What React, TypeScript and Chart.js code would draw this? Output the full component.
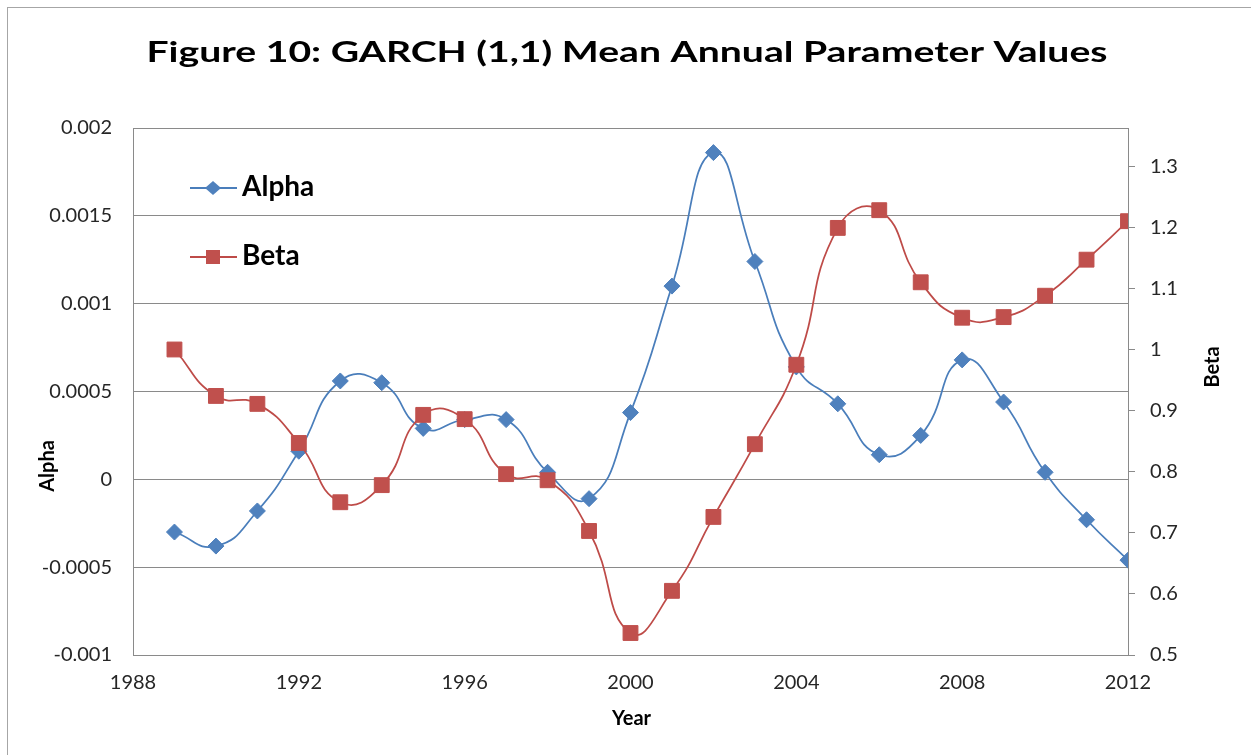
import React, { useEffect, useRef } from 'react';
import { Chart, registerables } from 'chart.js';

Chart.register(...registerables);

const TITLE = 'Figure 10: GARCH (1,1) Mean Annual Parameter Values';
const years = [1989, 1990, 1991, 1992, 1993, 1994, 1995, 1996, 1997, 1998, 1999, 2000, 2001, 2002, 2003, 2004, 2005, 2006, 2007, 2008, 2009, 2010, 2011, 2012];
const alphaValues = [-0.0003, -0.00038, -0.00018, 0.00016, 0.00056, 0.00055, 0.00029, 0.00034, 0.00034, 0.00004, -0.00011, 0.00038, 0.0011, 0.00186, 0.00124, 0.00064, 0.00043, 0.00014, 0.00025, 0.00068, 0.00044, 0.00004, -0.00023, -0.00046];
const betaValues = [1.0, 0.924, 0.911, 0.847, 0.75, 0.778, 0.893, 0.886, 0.796, 0.786, 0.703, 0.536, 0.605, 0.726, 0.845, 0.975, 1.199, 1.228, 1.11, 1.052, 1.053, 1.088, 1.147, 1.21];
const yearTicks = [1988, 1992, 1996, 2000, 2004, 2008, 2012];
const alphaTicks = [-0.001, -0.0005, 0, 0.0005, 0.001, 0.0015, 0.002];
const betaTicks = [0.5, 0.6, 0.7, 0.8, 0.9, 1.0, 1.1, 1.2, 1.3];

const GRID = '#8a8a8a';
const TICK = '#262626';
const ALPHA_LINE = '#4A7EBB';
const ALPHA_MARK = '#4F81BD';
const BETA_LINE = '#BE4B48';
const BETA_MARK = '#C0504D';
const FONT = 'Lato';

const fmt = (v: number) => String(parseFloat(Number(v).toPrecision(6)));

const decorPlugin = {
  id: 'decor',
  afterDraw(chart: any) {
    const ctx = chart.ctx as CanvasRenderingContext2D;
    const area = chart.chartArea;

    // Title
    ctx.save();
    ctx.font = `bold 28px ${FONT}`;
    ctx.fillStyle = '#000';
    ctx.textAlign = 'center';
    ctx.textBaseline = 'alphabetic';
    const w = ctx.measureText(TITLE).width;
    ctx.translate(627, 62);
    ctx.scale(961 / w, 1);
    ctx.fillText(TITLE, 0, 0);
    ctx.restore();

    // Axis titles
    ctx.save();
    ctx.font = `bold 20px ${FONT}`;
    ctx.fillStyle = '#000';
    ctx.textAlign = 'center';
    ctx.textBaseline = 'middle';
    ctx.fillText('Year', (area.left + area.right) / 2 + 1, 719);
    ctx.save();
    ctx.translate(48, 466);
    ctx.rotate(-Math.PI / 2);
    ctx.fillText('Alpha', 0, 0);
    ctx.restore();
    ctx.save();
    ctx.translate(1213, 367);
    ctx.rotate(-Math.PI / 2);
    ctx.fillText('Beta', 0, 0);
    ctx.restore();
    ctx.restore();

    // Legend
    const rows = [
      { label: 'Alpha', line: ALPHA_LINE, mark: ALPHA_MARK, y: 188, shape: 'diamond' },
      { label: 'Beta', line: BETA_LINE, mark: BETA_MARK, y: 257, shape: 'square' },
    ];
    rows.forEach((r) => {
      ctx.save();
      ctx.strokeStyle = r.line;
      ctx.lineWidth = 2;
      ctx.beginPath();
      ctx.moveTo(190, r.y);
      ctx.lineTo(237, r.y);
      ctx.stroke();
      ctx.fillStyle = r.mark;
      ctx.beginPath();
      if (r.shape === 'diamond') {
        ctx.moveTo(213, r.y - 7);
        ctx.lineTo(221, r.y);
        ctx.lineTo(213, r.y + 7);
        ctx.lineTo(205, r.y);
        ctx.closePath();
      } else {
        ctx.rect(206, r.y - 7, 14, 14);
      }
      ctx.fill();
      ctx.font = `bold 28px ${FONT}`;
      ctx.fillStyle = '#000';
      ctx.textAlign = 'left';
      ctx.textBaseline = 'middle';
      ctx.fillText(r.label, 242, r.y - 1);
      ctx.restore();
    });
  },
};

export default function App() {
  const canvasRef = useRef<HTMLCanvasElement | null>(null);

  useEffect(() => {
    if (!canvasRef.current) return;
    const alphaData = years.map((x, i) => ({ x, y: alphaValues[i] }));
    const betaData = years.map((x, i) => ({ x, y: betaValues[i] }));
    const tickFont = { family: FONT, size: 20 };

    const chart = new Chart(canvasRef.current, {
      type: 'line',
      data: {
        datasets: [
          {
            label: 'Alpha',
            data: alphaData,
            yAxisID: 'y',
            borderColor: ALPHA_LINE,
            backgroundColor: ALPHA_MARK,
            pointBackgroundColor: ALPHA_MARK,
            pointBorderColor: ALPHA_MARK,
            pointStyle: 'rectRot',
            pointRadius: 8,
            pointBorderWidth: 1,
            borderWidth: 1.75,
            tension: 0.5,
            fill: false,
            order: 1,
          },
          {
            label: 'Beta',
            data: betaData,
            yAxisID: 'y1',
            borderColor: BETA_LINE,
            backgroundColor: BETA_MARK,
            pointBackgroundColor: BETA_MARK,
            pointBorderColor: BETA_MARK,
            pointStyle: 'rect',
            pointRadius: 10.5,
            pointBorderWidth: 1,
            borderWidth: 1.75,
            tension: 0.5,
            fill: false,
            order: 0,
          },
        ],
      },
      options: {
        animation: false,
        responsive: false,
        devicePixelRatio: 1,
        layout: { padding: { top: 128, left: 0, right: 0, bottom: 0 } },
        plugins: {
          legend: { display: false },
          title: { display: false },
          tooltip: { enabled: false },
        },
        scales: {
          x: {
            type: 'linear',
            position: 'bottom',
            min: 1988,
            max: 2012,
            afterBuildTicks: (s: any) => {
              s.ticks = yearTicks.map((v) => ({ value: v }));
            },
            afterFit: (s: any) => {
              s.height = 100;
            },
            grid: { drawOnChartArea: false, drawTicks: false },
            border: { display: true, color: GRID, width: 1 },
            ticks: {
              padding: 16,
              color: TICK,
              font: tickFont,
              maxRotation: 0,
              autoSkip: false,
              callback: (v: any) => String(v),
            },
          },
          y: {
            type: 'linear',
            position: 'left',
            min: -0.001,
            max: 0.002,
            afterBuildTicks: (s: any) => {
              s.ticks = alphaTicks.map((v) => ({ value: v }));
            },
            afterFit: (s: any) => {
              s.width = 133;
            },
            grid: { color: GRID, drawTicks: false, lineWidth: 1 },
            border: { display: true, color: GRID, width: 1 },
            ticks: {
              padding: 21,
              color: TICK,
              font: tickFont,
              callback: (v: any) => fmt(v),
            },
          },
          y1: {
            type: 'linear',
            position: 'right',
            min: 0.5,
            max: 1.3625,
            afterBuildTicks: (s: any) => {
              s.ticks = betaTicks.map((v) => ({ value: v }));
            },
            afterFit: (s: any) => {
              s.width = 123;
            },
            grid: { drawOnChartArea: false, drawTicks: true, tickLength: 7, color: GRID },
            border: { display: true, color: GRID, width: 1 },
            ticks: {
              padding: 15,
              color: TICK,
              font: tickFont,
              callback: (v: any) => fmt(v),
            },
          },
        },
      },
      plugins: [decorPlugin],
    } as any);

    return () => {
      chart.destroy();
    };
  }, []);

  return (
    <div
      style={{
        position: 'fixed',
        left: 0,
        top: 0,
        width: 1251,
        height: 755,
        background: '#ffffff',
        overflow: 'hidden',
      }}
    >
      <div
        style={{
          position: 'absolute',
          left: 7,
          top: 7,
          width: 1300,
          height: 800,
          borderTop: '1px solid #a6a6a6',
          borderLeft: '1px solid #a6a6a6',
        }}
      />
      <canvas
        ref={canvasRef}
        width={1251}
        height={755}
        style={{ position: 'absolute', left: 0, top: 0, display: 'block' }}
      />
    </div>
  );
}
